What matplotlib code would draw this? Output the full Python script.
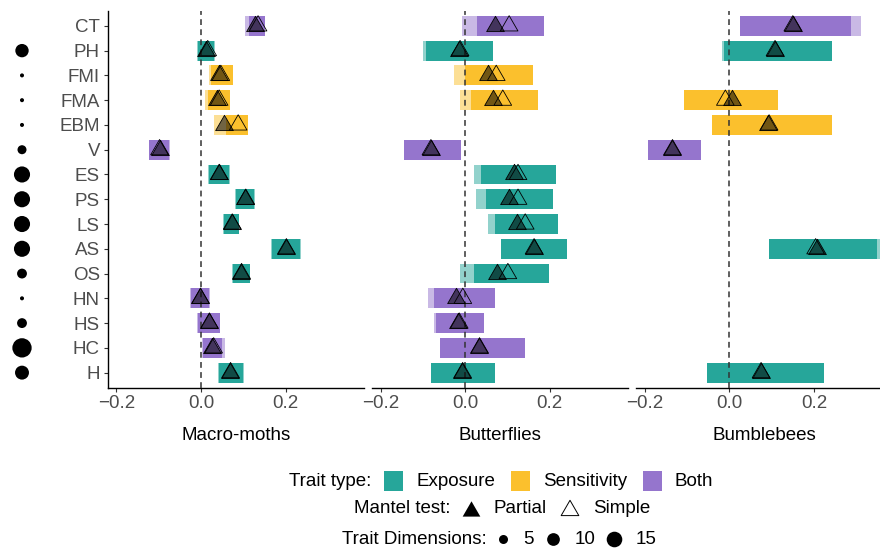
import numpy as np
import matplotlib
matplotlib.use("Agg")
import matplotlib.pyplot as plt
from matplotlib.path import Path
from matplotlib.patches import Rectangle

plt.rcParams['font.family'] = ['Liberation Sans', 'DejaVu Sans']

# ---------------- data ----------------
traits = ["CT", "PH", "FMI", "FMA", "EBM", "V", "ES", "PS", "LS", "AS", "OS", "HN", "HS", "HC", "H"]
trait_type = ["Both", "Exposure", "Sensitivity", "Sensitivity", "Sensitivity", "Both",
              "Exposure", "Exposure", "Exposure", "Exposure", "Exposure",
              "Both", "Both", "Both", "Exposure"]
trait_dims = [np.nan, 11, 1, 1, 1, 5, 16, 16, 16, 16, 6, 1, 6, 23, 12]
taxa = ["Macro-moths", "Butterflies", "Bumblebees"]
nan = np.nan

# Macro-moths
moth_partial = [0.127, 0.012, 0.042, 0.038, 0.055, -0.098, 0.042, 0.105, 0.073, 0.201, 0.095, -0.002, 0.018, 0.027, 0.069]
moth_simple = [0.135, 0.016, 0.047, 0.043, 0.088, -0.098, 0.043, 0.106, 0.074, 0.202, 0.096, -0.001, 0.020, 0.030, 0.070]
moth_light_lo = [0.103, -0.010, 0.018, 0.010, 0.032, -0.124, 0.016, 0.081, 0.053, 0.166, 0.073, -0.025, -0.0095, 0.003, 0.040]
moth_light_hi = [0.150, 0.033, 0.070, 0.065, 0.100, -0.074, 0.069, 0.127, 0.091, 0.236, 0.117, 0.021, 0.046, 0.056, 0.101]
moth_dark_lo = [0.113, -0.007, 0.024, 0.016, 0.059, -0.122, 0.018, 0.083, 0.055, 0.168, 0.075, -0.023, -0.007, 0.005, 0.042]
moth_dark_hi = [0.152, 0.030, 0.075, 0.069, 0.111, -0.075, 0.067, 0.125, 0.089, 0.234, 0.115, 0.020, 0.044, 0.050, 0.0995]

# Butterflies
bfly_partial = [0.071, -0.014, 0.055, 0.067, nan, -0.081, 0.115, 0.103, 0.1225, 0.162, 0.075, -0.021, -0.018, 0.033, -0.007]
bfly_simple = [0.104, -0.012, 0.0735, 0.089, nan, -0.081, 0.125, 0.125, 0.142, 0.163, 0.101, -0.0055, -0.014, 0.034, -0.006]
bfly_light_lo = [-0.008, -0.099, -0.026, -0.012, nan, -0.144, 0.022, 0.026, 0.053, 0.085, -0.012, -0.089, -0.073, -0.059, -0.081]
bfly_light_hi = [0.170, 0.060, 0.150, 0.160, nan, -0.0095, 0.200, 0.200, 0.210, 0.241, 0.190, 0.065, 0.040, 0.142, 0.0695]
bfly_dark_lo = [0.029, -0.093, 0.000, 0.014, nan, -0.144, 0.037, 0.050, 0.0695, 0.085, 0.020, -0.0735, -0.069, -0.059, -0.081]
bfly_dark_hi = [0.186, 0.067, 0.160, 0.172, nan, -0.0095, 0.215, 0.208, 0.219, 0.241, 0.199, 0.071, 0.0435, 0.142, 0.0695]

# Bumblebees
bee_partial = [0.150, 0.107, nan, 0.006, 0.092, -0.1345, nan, nan, nan, 0.208, nan, nan, nan, nan, 0.075]
bee_simple = [0.150, 0.108, nan, -0.0095, 0.094, -0.1345, nan, nan, nan, 0.204, nan, nan, nan, nan, 0.075]
bee_light_lo = [0.0245, -0.0166, nan, -0.107, -0.042, -0.193, nan, nan, nan, 0.093, nan, nan, nan, nan, -0.052]
bee_light_hi = [0.311, 0.235, nan, 0.115, 0.240, -0.068, nan, nan, nan, 0.358, nan, nan, nan, nan, 0.2245]
bee_dark_lo = [0.0245, -0.012, nan, -0.107, -0.040, -0.193, nan, nan, nan, 0.093, nan, nan, nan, nan, -0.052]
bee_dark_hi = [0.287, 0.2427, nan, 0.115, 0.243, -0.068, nan, nan, nan, 0.349, nan, nan, nan, nan, 0.2245]

panels = [
    (moth_partial, moth_simple, moth_light_lo, moth_light_hi, moth_dark_lo, moth_dark_hi),
    (bfly_partial, bfly_simple, bfly_light_lo, bfly_light_hi, bfly_dark_lo, bfly_dark_hi),
    (bee_partial, bee_simple, bee_light_lo, bee_light_hi, bee_dark_lo, bee_dark_hi),
]

type_colors = {"Exposure": "#26A69A", "Sensitivity": "#FBC02D", "Both": "#9575CD"}
legend_types = ["Exposure", "Sensitivity", "Both"]
legend_dims = [5, 10, 15]

# ---------------- layout helpers ----------------
W, H = 880, 548
fig = plt.figure(figsize=(W / 100, H / 100), dpi=100)

def fx(px):
    return px / W

def fy(py):
    return 1 - py / H

FS = 13.5
TXT_GRAY = "#4D4D4D"
panel_left0 = 107.7
panel_step = 264.2
panel_w = 256.3
panel_top, panel_bot = 11.0, 387.5

n = len(traits)
ypos = np.arange(n)[::-1] + 1.0   # CT at top
ylim = (0.4, n + 0.6)

allvals = np.concatenate([np.array(p[k], float) for p in panels for k in range(2, 6)])
vmin, vmax = np.nanmin(allvals), np.nanmax(allvals)
rng = vmax - vmin
xlim = (vmin - 0.05 * rng, vmax + 0.05 * rng)

# triangle marker with circumcentre at the data point (like R pch 17)
tri = Path([(0, 1), (-0.8660, -0.5), (0.8660, -0.5), (0, 1)],
           [Path.MOVETO, Path.LINETO, Path.LINETO, Path.CLOSEPOLY])
TRI_S = 14.7 ** 2
FILL_TRI = (0, 0, 0, 0.55)
BAR_H = 0.8

row_colors = [type_colors[t] for t in trait_type]

for i, (taxon, data) in enumerate(zip(taxa, panels)):
    part, simp, llo, lhi, dlo, dhi = [np.array(d, float) for d in data]
    ax = fig.add_axes([fx(panel_left0 + i * panel_step), fy(panel_bot),
                       fx(panel_w), (panel_bot - panel_top) / H])
    ax.set_xlim(*xlim)
    ax.set_ylim(*ylim)
    m = ~np.isnan(llo)
    cols = [c for c, k in zip(row_colors, m) if k]
    ax.barh(ypos[m], lhi[m] - llo[m], left=llo[m], height=BAR_H, color=cols,
            alpha=0.5, linewidth=0, zorder=2)
    m2 = ~np.isnan(dlo)
    cols2 = [c for c, k in zip(row_colors, m2) if k]
    ax.barh(ypos[m2], dhi[m2] - dlo[m2], left=dlo[m2], height=BAR_H, color=cols2,
            alpha=1.0, linewidth=0, zorder=3)
    ax.axvline(0, color="#333333", lw=1.1, ls=(0, (3.8, 2.8)), zorder=4)
    mp = ~np.isnan(part)
    ax.scatter(part[mp], ypos[mp], marker=tri, s=TRI_S, facecolors=[FILL_TRI],
               edgecolors="black", linewidths=0.6, zorder=5)
    ms = ~np.isnan(simp)
    ax.scatter(simp[ms], ypos[ms], marker=tri, s=TRI_S, facecolors="none",
               edgecolors="black", linewidths=0.6, zorder=6)

    for sp in ["top", "right"]:
        ax.spines[sp].set_visible(False)
    ax.spines["bottom"].set_linewidth(1.0)
    ax.spines["bottom"].set_color("black")
    ax.set_xticks([-0.2, 0.0, 0.2])
    ax.set_xticklabels(["\u22120.2", "0.0", "0.2"])
    ax.tick_params(axis="x", length=2.6, width=0.8, color="#333333", labelsize=FS,
                   labelcolor=TXT_GRAY, pad=3)
    if i == 0:
        ax.spines["left"].set_linewidth(1.0)
        ax.spines["left"].set_color("black")
        ax.set_yticks(ypos)
        ax.set_yticklabels(traits)
        ax.tick_params(axis="y", length=2.6, width=0.8, color="#333333", labelsize=FS,
                       labelcolor=TXT_GRAY, pad=3)
    else:
        ax.spines["left"].set_visible(False)
        ax.set_yticks([])
    fig.text(fx(panel_left0 + i * panel_step + panel_w / 2), fy(435), taxon,
             ha="center", va="center", fontsize=FS, color="black")

# trait-dimension dots
DOT_K = 8.4
axd = fig.add_axes([0, fy(panel_bot), fx(44), (panel_bot - panel_top) / H])
axd.set_xlim(0, 1)
axd.set_ylim(*ylim)
axd.axis("off")
dims = np.array(trait_dims, float)
md = ~np.isnan(dims)
axd.scatter(np.full(md.sum(), 0.5), ypos[md], s=dims[md] * DOT_K, color="black",
            linewidths=0)

# ---------------- legend ----------------
axl = fig.add_axes([0, 0, 1, 1], zorder=-1)
axl.set_xlim(0, W)
axl.set_ylim(H, 0)
axl.axis("off")

y1, y2, y3 = 481, 508.5, 539
axl.text(371, y1, "Trait type:", ha="right", va="center", fontsize=FS)
key_x = [384, 510.7, 642.7]
lab_x = [416.7, 542.7, 675]
for t, kx, lx in zip(legend_types, key_x, lab_x):
    axl.add_patch(Rectangle((kx, y1 - 10), 19, 20, color=type_colors[t], lw=0))
    axl.text(lx, y1, t, ha="left", va="center", fontsize=FS)

axl.text(451, y2, "Mantel test:", ha="right", va="center", fontsize=FS)
axl.scatter([471], [y2 + 2], marker=tri, s=TRI_S, color="black", linewidths=0)
axl.text(493.3, y2, "Partial", ha="left", va="center", fontsize=FS)
axl.scatter([570], [y2 + 2], marker=tri, s=TRI_S, facecolors="none", edgecolors="black",
            linewidths=0.7)
axl.text(592.7, y2, "Simple", ha="left", va="center", fontsize=FS)

axl.text(487, y3, "Trait Dimensions:", ha="right", va="center", fontsize=FS)
dot_x = [503, 553.3, 614.3]
dlab_x = [523.3, 575, 636]
for d, dx, lx in zip(legend_dims, dot_x, dlab_x):
    axl.scatter([dx], [y3], s=d * DOT_K, color="black", linewidths=0)
    axl.text(lx, y3, str(d), ha="left", va="center", fontsize=FS)

fig.savefig("out.png", dpi=100)
